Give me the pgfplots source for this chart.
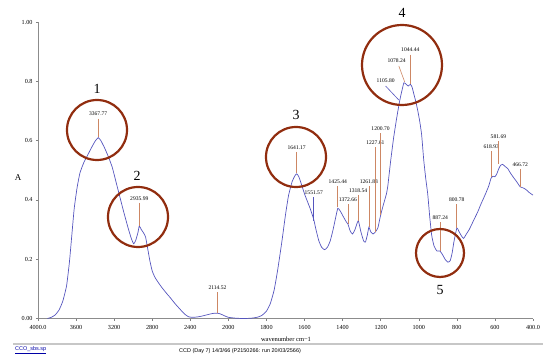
\documentclass[border=0pt]{standalone}
\usepackage{pgfplots}
\pgfplotsset{compat=1.18}
\usepackage{fontspec}
\setmainfont{Liberation Serif}
\newfontfamily\arialf{Liberation Sans}
\definecolor{curve}{RGB}{85,85,190}
\definecolor{ring}{RGB}{145,45,15}
\definecolor{pk}{RGB}{205,135,100}
\tikzset{pl/.style={font=\fontsize{5.6}{6}\selectfont, inner sep=0pt, text=black}}
\newcommand\pk[5][pk]{%
  \draw[#1, line width=0.6bp] (axis cs:#2,#4) -- (axis cs:#2,#5);
  \node[pl] at (axis cs:#2,#3) {#2};}
\begin{document}
\begin{tikzpicture}
\path[use as bounding box] (0,0) rectangle (550bp,361bp);
\begin{axis}[
  at={(38bp,42.5bp)}, anchor=south west,
  scale only axis, width=495bp, height=296.5bp,
  x coord trafo/.code={\pgfmathparse{(#1>2000)*(4000-#1)/2+(#1<=2000)*(3000-#1)}},
  x coord inv trafo/.code={\pgfmathparse{(#1<1000)*(4000-2*#1)+(#1>=1000)*(3000-#1)}},
  xmin=4000, xmax=400, ymin=0, ymax=1,
  axis lines=left, axis line style={-, draw=black!45, line width=0.8bp},
  clip=false,
  xtick={4000,3600,3200,2800,2400,2000,1800,1600,1400,1200,1000,800,600,400},
  xticklabels={4000.0,3600,3200,2800,2400,2000,1800,1600,1400,1200,1000,800,600,400.0},
  ytick={0,0.2,0.4,0.6,0.8,1},
  yticklabels={0.00,0.2,0.4,0.6,0.8,1.00},
  tick align=outside, major tick length=2bp,
  tick style={draw=black!50, line width=0.5bp},
  tick label style={font=\fontsize{6.2}{7}\selectfont, text=black},
  xticklabel style={yshift=-1.5bp},
  /pgf/number format/assume math mode=true,
]
\addplot[curve, line width=0.7bp, smooth, tension=0.3] table[x=w, y=a] {
w a
3900 0.000
3860 0.004
3820 0.012
3780 0.028
3740 0.058
3700 0.110
3670 0.190
3645 0.280
3620 0.370
3590 0.440
3560 0.490
3520 0.525
3480 0.550
3440 0.575
3400 0.598
3368 0.610
3340 0.600
3300 0.575
3260 0.545
3220 0.510
3180 0.460
3140 0.410
3100 0.360
3053 0.305
3020 0.270
2995 0.252
2975 0.262
2950 0.290
2936 0.312
2915 0.300
2890 0.288
2870 0.275
2850 0.240
2825 0.195
2800 0.160
2770 0.138
2740 0.123
2700 0.105
2650 0.085
2610 0.070
2560 0.050
2510 0.032
2460 0.015
2420 0.006
2380 0.004
2330 0.005
2280 0.008
2230 0.012
2180 0.016
2140 0.018
2114 0.018
2080 0.015
2040 0.009
2000 0.004
1960 0.001
1920 0.000
1880 0.001
1850 0.004
1825 0.010
1800 0.025
1780 0.050
1760 0.095
1742 0.160
1720 0.255
1700 0.350
1684 0.415
1665 0.462
1650 0.482
1641 0.488
1630 0.478
1615 0.450
1600 0.420
1585 0.395
1570 0.370
1552 0.335
1540 0.300
1525 0.262
1510 0.240
1495 0.232
1480 0.240
1465 0.262
1450 0.300
1435 0.345
1425 0.372
1412 0.362
1395 0.342
1380 0.325
1373 0.320
1360 0.295
1348 0.285
1335 0.300
1318 0.330
1305 0.295
1290 0.262
1280 0.258
1270 0.282
1262 0.308
1252 0.292
1240 0.285
1228 0.292
1215 0.305
1205 0.335
1195 0.362
1184 0.388
1170 0.420
1163 0.445
1155 0.490
1147 0.535
1132 0.610
1115 0.680
1100 0.735
1088 0.770
1078 0.795
1066 0.790
1055 0.784
1044 0.790
1035 0.780
1025 0.755
1015 0.730
1005 0.700
995 0.665
985 0.620
974 0.535
963 0.470
953 0.420
942 0.340
932 0.280
920 0.245
905 0.228
889 0.228
875 0.215
860 0.198
847 0.190
835 0.195
825 0.220
815 0.260
800 0.305
790 0.295
779 0.282
765 0.270
750 0.285
735 0.300
720 0.320
705 0.340
690 0.360
674 0.385
660 0.405
647 0.424
632 0.448
621 0.472
611 0.480
600 0.478
590 0.488
580 0.505
570 0.517
560 0.520
545 0.512
532 0.505
518 0.490
505 0.478
490 0.465
479 0.455
467 0.444
450 0.440
437 0.435
420 0.425
400 0.416
};
\pk{3367.77}{0.690}{0.674}{0.612}
\pk{2935.99}{0.403}{0.390}{0.312}
\pk{2114.52}{0.103}{0.089}{0.020}
\pk{1641.17}{0.575}{0.562}{0.490}
\pk[curve]{1551.57}{0.423}{0.410}{0.330}
\pk{1425.44}{0.460}{0.447}{0.375}
\pk{1372.66}{0.400}{0.386}{0.320}
\pk{1318.54}{0.430}{0.417}{0.330}
\pk{1261.83}{0.460}{0.447}{0.310}
\pk{1227.61}{0.592}{0.578}{0.292}
\pk{1200.70}{0.640}{0.625}{0.350}
\pk{1044.44}{0.906}{0.890}{0.790}
\pk{887.24}{0.339}{0.325}{0.228}
\pk{800.78}{0.400}{0.386}{0.305}
\pk{618.93}{0.578}{0.565}{0.478}
\pk{581.69}{0.612}{0.598}{0.520}
\pk{466.72}{0.518}{0.504}{0.444}
\draw[curve, line width=0.6bp] (axis cs:1174,0.784) -- (axis cs:1105,0.737);
\node[pl] at (axis cs:1174,0.803) {1105.80};
\draw[pk, line width=0.6bp] (axis cs:1105,0.852) -- (axis cs:1074,0.798);
\node[pl] at (axis cs:1116,0.868) {1078.24};
\end{axis}
\begin{scope}[x=1bp, y=-1bp, yshift=361bp]
\draw[ring, line width=2.2bp] (97,130) circle[radius=30];
\draw[ring, line width=2.2bp] (138,217) circle[radius=30];
\draw[ring, line width=2.2bp] (296,157) circle[radius=30];
\draw[ring, line width=2.2bp] (402,65) circle[radius=40];
\draw[ring, line width=2.2bp] (440,253) circle[radius=24];
\node[font=\fontsize{14}{14}\selectfont] at (97,89) {1};
\node[font=\fontsize{14}{14}\selectfont] at (137,176) {2};
\node[font=\fontsize{14}{14}\selectfont] at (296,115) {3};
\node[font=\fontsize{14}{14}\selectfont] at (402,13) {4};
\node[font=\fontsize{14}{14}\selectfont] at (440,290) {5};
\node[font=\fontsize{9}{9}\selectfont] at (18,178) {A};
\node[font=\fontsize{6.5}{7}\selectfont] at (286,339) {wavenumber cm−1};
\draw[black!22, line width=1.3bp] (13,344) -- (543,344);
\node[anchor=west, inner sep=0pt, font=\arialf\fontsize{5.5}{6}\selectfont, text=blue!65!black] at (15,350) {\underline{CCO\_sbs.sp}};
\node[anchor=west, inner sep=0pt, font=\arialf\fontsize{5.5}{6}\selectfont] at (179,351) {CCD (Day 7) 14/3/66 (P2150266: run 20/03/2566)};
\end{scope}
\end{tikzpicture}
\end{document}
